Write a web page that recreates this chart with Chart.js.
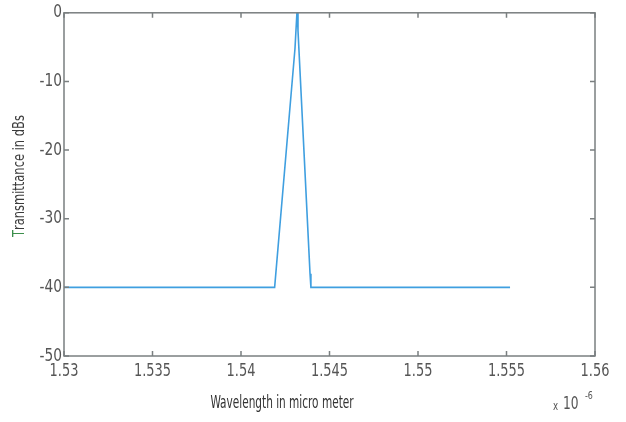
<!DOCTYPE html>
<html>
<head>
<meta charset="utf-8">
<script src="https://cdn.jsdelivr.net/npm/chart.js@4/dist/chart.umd.min.js"></script>
<style>
  html, body { margin: 0; padding: 0; background: #ffffff; }
  #wrap { width: 626px; height: 422px; position: relative; }
</style>
</head>
<body>
<div id="wrap"><canvas id="c" width="626" height="422"></canvas></div>
<script>
// Wavelength values (x 10^-6 m, i.e. micrometre) and transmittance in dB
const wavelengths   = [1.530, 1.5419, 1.54305, 1.54316, 1.54318, 1.54322, 1.54390, 1.54395, 1.5552];
const transmittance = [-40,   -40,    -5.2,    0,       0,       -2.6,    -38,     -40,     -40];
const xTicks = [1.53, 1.535, 1.54, 1.545, 1.55, 1.555, 1.56];
const yTicks = [0, -10, -20, -30, -40, -50];
const xTitle = 'Wavelength in micro meter';
const yTitle = 'Transmittance in dBs';

const FONT = "'Liberation Sans Narrow', 'DejaVu Sans Condensed', 'Liberation Sans', sans-serif";
const AXIS_COLOR = '#7a7f80';

function fmtX(v) { return String(Number(v.toFixed(3))); }

// draw text compressed horizontally
function squeezed(ctx, text, x, y, sx, align) {
  ctx.save();
  ctx.translate(x, y);
  ctx.scale(sx, 1);
  ctx.textAlign = align;
  ctx.fillText(text, 0, 0);
  ctx.restore();
}

const framePlugin = {
  id: 'frame',
  afterDraw(chart) {
    const { ctx, chartArea: a, scales } = chart;
    ctx.save();
    ctx.strokeStyle = AXIS_COLOR;
    ctx.lineWidth = 1.5;
    ctx.strokeRect(a.left, a.top, a.right - a.left, a.bottom - a.top);
    const tl = 5;
    ctx.beginPath();
    xTicks.forEach(v => {
      const px = scales.x.getPixelForValue(v);
      ctx.moveTo(px, a.bottom); ctx.lineTo(px, a.bottom - tl);
      ctx.moveTo(px, a.top); ctx.lineTo(px, a.top + tl);
    });
    yTicks.forEach(v => {
      const py = scales.y.getPixelForValue(v);
      ctx.moveTo(a.left, py); ctx.lineTo(a.left + tl, py);
      ctx.moveTo(a.right, py); ctx.lineTo(a.right - tl, py);
    });
    ctx.stroke();

    // tick labels
    ctx.fillStyle = '#555';
    ctx.font = '18px ' + FONT;
    ctx.textBaseline = 'middle';
    xTicks.forEach(v => {
      squeezed(ctx, fmtX(v), scales.x.getPixelForValue(v), a.bottom + 15, 0.8, 'center');
    });
    yTicks.forEach(v => {
      squeezed(ctx, String(v), a.left - 2, scales.y.getPixelForValue(v), 0.85, 'right');
    });

    // X axis title
    ctx.fillStyle = '#333';
    ctx.font = '18px ' + FONT;
    squeezed(ctx, xTitle, 282, 403, 0.65, 'center');

    // exponent label
    ctx.fillStyle = '#555';
    ctx.font = '12px ' + FONT;
    squeezed(ctx, 'x', 553, 407, 0.8, 'left');
    ctx.font = '17px ' + FONT;
    squeezed(ctx, '10', 563, 405, 0.8, 'left');
    ctx.font = '11px ' + FONT;
    squeezed(ctx, '-6', 585, 396, 0.8, 'left');

    // Y axis title (rotated)
    ctx.save();
    ctx.translate(20, 177);
    ctx.rotate(-Math.PI / 2);
    ctx.scale(0.85, 1);
    ctx.font = '15px ' + FONT;
    ctx.textBaseline = 'middle';
    ctx.textAlign = 'left';
    const full = ctx.measureText(yTitle).width;
    const tW = ctx.measureText('T').width;
    const x0 = -full / 2;
    ctx.fillStyle = '#3c8f4c';
    ctx.fillText('T', x0, 0);
    ctx.fillStyle = '#3a3a3a';
    ctx.fillText(yTitle.slice(1), x0 + tW, 0);
    ctx.restore();
    ctx.restore();
  }
};

new Chart(document.getElementById('c'), {
  type: 'scatter',
  data: {
    datasets: [{
      data: wavelengths.map((w, i) => ({ x: w, y: transmittance[i] })),
      showLine: true,
      borderColor: '#3f9fe0',
      borderWidth: 1.6,
      pointRadius: 0,
      fill: false,
      tension: 0
    }]
  },
  options: {
    responsive: false,
    animation: false,
    devicePixelRatio: 1,
    layout: { padding: { left: 0, top: 12, right: 31, bottom: 0 } },
    plugins: { legend: { display: false }, tooltip: { enabled: false } },
    scales: {
      x: {
        type: 'linear',
        min: 1.53, max: 1.56,
        afterBuildTicks: s => { s.ticks = xTicks.map(v => ({ value: v })); },
        afterFit: s => { s.height = 66; },
        grid: { display: false, drawTicks: false },
        border: { display: false },
        ticks: {
          padding: 6,
          color: 'rgba(0,0,0,0)',
          font: { family: FONT, size: 18 },
          maxRotation: 0,
          callback: v => fmtX(v)
        }
      },
      y: {
        min: -50, max: 0,
        afterBuildTicks: s => { s.ticks = yTicks.map(v => ({ value: v })); },
        afterFit: s => { s.width = 64; },
        grid: { display: false, drawTicks: false },
        border: { display: false },
        ticks: {
          padding: 2,
          color: 'rgba(0,0,0,0)',
          font: { family: FONT, size: 18 },
          callback: v => String(v)
        }
      }
    }
  },
  plugins: [framePlugin]
});
</script>
</body>
</html>
